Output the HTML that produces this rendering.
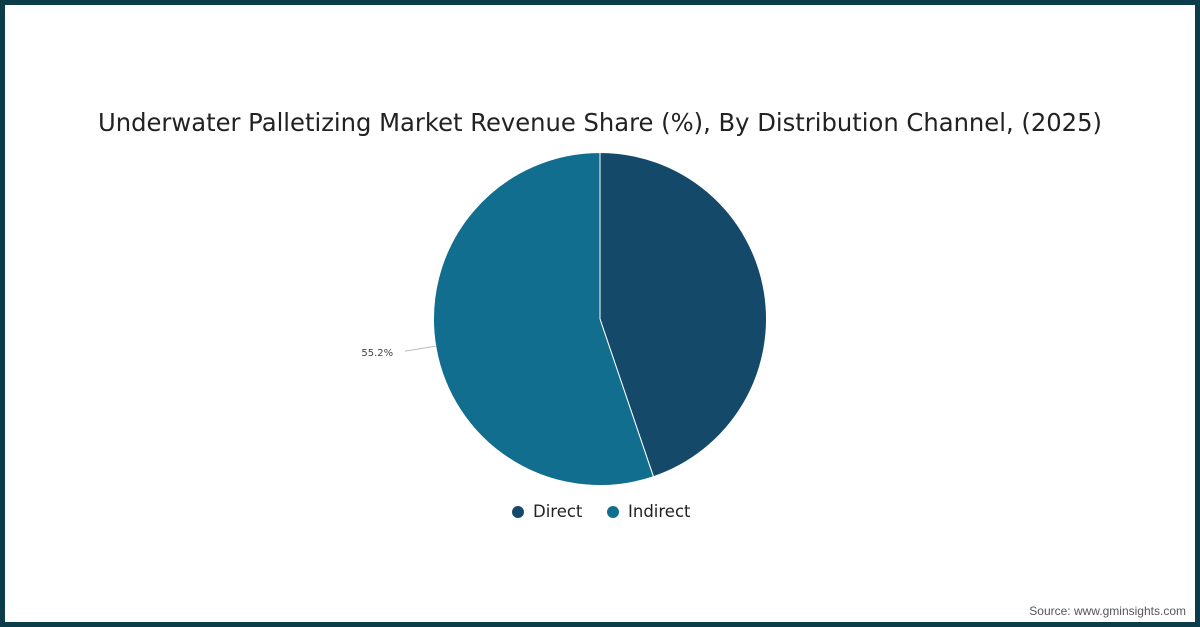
<!DOCTYPE html>
<html><head><meta charset="utf-8"><style>
html,body{margin:0;padding:0;background:#fff}
#frame{position:absolute;left:0;top:0;width:1190px;height:617px;border:5px solid #0c3c4a;background:#fff}
svg{position:absolute;left:0;top:0}
</style></head><body>
<div id="frame"></div>
<svg id="chart" width="1200" height="627">
<text x="600" y="131" text-anchor="middle" textLength="1004" lengthAdjust="spacingAndGlyphs" font-family="'DejaVu Sans','Liberation Sans',sans-serif" font-size="24.5" fill="#222">Underwater Palletizing Market Revenue Share (%), By Distribution Channel, (2025)</text>
<text x="1186" y="615" text-anchor="end" font-family="'Liberation Sans',sans-serif" font-size="12" fill="#555">Source: www.gminsights.com</text>
</svg>
<script>
const categories=["Direct","Indirect"];
const values=[44.8,55.2];
const labels=["","55.2%"];
const colors=["#15496a","#116e8e"];
const svg=document.getElementById('chart');
const NS='http://www.w3.org/2000/svg';
const cx=600,cy=319,r=166.5;
const total=values.reduce((a,b)=>a+b,0);
function pt(frac,rad){const a=frac*2*Math.PI-Math.PI/2;return [cx+rad*Math.cos(a),cy+rad*Math.sin(a)];}
let acc=0;
values.forEach((v,i)=>{
  const s=acc/total,e=(acc+v)/total;acc+=v;
  const p0=pt(s,r),p1=pt(e,r);const large=(e-s)>0.5?1:0;
  const path=document.createElementNS(NS,'path');
  path.setAttribute('d',`M${cx},${cy}L${p0[0]},${p0[1]}A${r},${r} 0 ${large} 1 ${p1[0]},${p1[1]}Z`);
  path.setAttribute('fill',colors[i]);path.setAttribute('stroke','#fff');path.setAttribute('stroke-width','1');
  
  
  svg.appendChild(path);
  if(labels[i]){
    const m=(s+e)/2;const a=pt(m,r),b=pt(m,r+31);
    const ln=document.createElementNS(NS,'line');
    ln.setAttribute('x1',a[0]);ln.setAttribute('y1',a[1]);ln.setAttribute('x2',b[0]);ln.setAttribute('y2',b[1]);
    ln.setAttribute('stroke','#bbb');ln.setAttribute('stroke-width','1');
    
    
    svg.appendChild(ln);
    const t=document.createElementNS(NS,'text');
    const left=b[0]<cx;
    t.setAttribute('x',left?b[0]-12:b[0]+12);t.setAttribute('y',b[1]+5);
    t.setAttribute('text-anchor',left?'end':'start');
    t.setAttribute('font-family',"'DejaVu Sans','Liberation Sans',sans-serif");t.setAttribute('font-size','10');t.setAttribute('fill','#444');
    t.textContent=labels[i];
    
    
    svg.appendChild(t);
  }
});
const lx=[518,613];
categories.forEach((c,i)=>{
  const g=document.createElementNS(NS,'g');
  
  
  const ci=document.createElementNS(NS,'circle');
  ci.setAttribute('cx',lx[i]);ci.setAttribute('cy',512);ci.setAttribute('r',6);ci.setAttribute('fill',colors[i]);
  g.appendChild(ci);
  const t=document.createElementNS(NS,'text');
  t.setAttribute('x',lx[i]+15);t.setAttribute('y',517);
  t.setAttribute('font-family',"'DejaVu Sans','Liberation Sans',sans-serif");t.setAttribute('font-size','16.5');t.setAttribute('fill','#222');
  t.textContent=c;g.appendChild(t);
  svg.appendChild(g);
});
</script>
</body></html>
